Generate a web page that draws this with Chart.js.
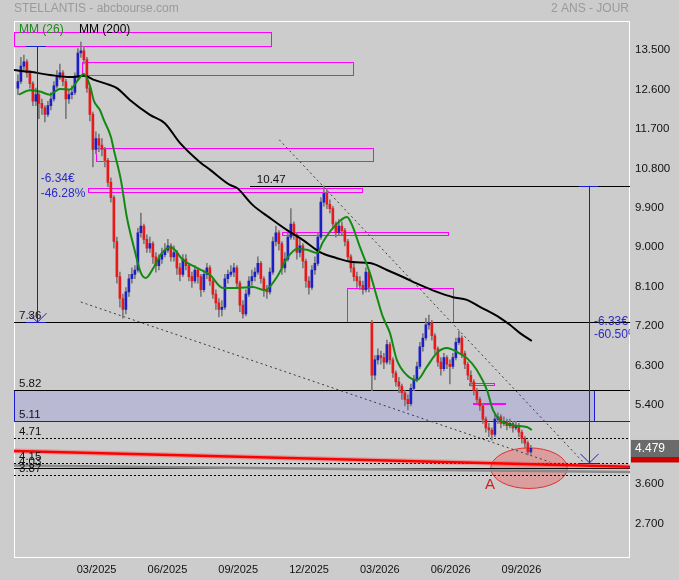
<!DOCTYPE html>
<html><head><meta charset="utf-8">
<script src="https://cdn.jsdelivr.net/npm/chart.js"></script>
<style>
html,body{margin:0;padding:0;background:#cccccc;overflow:hidden}
#wrap{position:relative;width:679px;height:580px}
</style></head><body>
<div id="wrap"><canvas id="c" width="679" height="580"></canvas></div>
<script>
// ---- data (months counted from 01/2025 = 0) ----
const startMonth = -1.335;
const stepMonth = 0.1271;
const opens = [
12.70,12.85,13.20,13.30,13.05,12.80,12.40,12.55,12.35,12.25,
12.10,12.30,12.45,12.75,12.95,13.05,12.85,12.45,12.55,12.60,
12.95,13.50,13.55,13.35,12.70,12.10,11.30,11.55,11.40,11.30,
11.05,10.55,10.20,9.20,8.40,7.90,7.65,8.05,8.35,8.45,
8.55,9.40,9.55,9.25,9.05,9.15,8.85,8.65,8.80,8.90,
9.00,9.10,8.85,8.95,8.60,8.45,8.80,8.65,8.40,8.30,
8.55,8.40,8.10,8.45,8.60,8.30,8.00,7.80,7.65,7.70,
8.35,8.45,8.50,8.60,8.25,7.75,7.55,8.00,8.30,8.40,
8.50,8.70,8.35,8.10,8.05,8.50,9.20,9.40,9.15,8.60,
8.80,9.30,9.60,9.35,8.95,9.10,8.75,8.30,8.15,8.55,
8.70,9.30,10.10,10.30,10.05,9.95,9.60,9.40,9.55,9.45,
9.20,8.85,8.60,8.40,8.30,8.20,8.10,8.50,7.35,6.15,
6.50,6.60,6.55,6.45,6.85,6.50,6.20,6.00,5.90,5.75,
5.60,5.50,5.85,6.05,6.35,6.80,7.00,7.30,7.35,7.05,
6.75,6.45,6.30,6.55,6.40,6.35,6.55,6.90,7.00,6.65,
6.40,6.15,6.00,5.80,5.60,5.45,5.15,4.95,4.90,4.80,
5.15,5.20,5.05,5.10,5.00,5.05,4.95,5.00,4.85,4.70,
4.60,4.40];
const highs = [
13.00,13.40,13.45,13.35,13.10,12.85,12.70,12.60,12.45,12.30,
12.40,12.60,12.85,13.10,13.25,13.10,12.90,12.65,12.75,13.05,
13.60,13.75,13.65,13.40,12.75,12.15,11.70,11.65,11.55,11.35,
11.10,10.65,10.25,9.30,8.50,8.00,8.15,8.45,8.60,8.65,
9.50,9.85,9.60,9.35,9.30,9.20,8.95,8.90,9.05,9.15,
9.25,9.15,9.10,9.00,8.70,8.90,8.90,8.70,8.50,8.65,
8.60,8.45,8.55,8.70,8.65,8.35,8.10,7.90,7.85,8.45,
8.55,8.65,8.70,8.65,8.30,7.85,8.10,8.40,8.55,8.60,
8.85,8.75,8.40,8.20,8.60,9.30,9.55,9.45,9.20,8.95,
9.40,9.95,9.65,9.40,9.25,9.15,8.80,8.40,8.65,8.85,
9.40,10.20,10.47,10.40,10.15,10.00,9.65,9.70,9.65,9.50,
9.25,8.90,8.70,8.50,8.40,8.30,8.60,8.55,7.40,6.60,
6.75,6.70,6.65,6.95,6.90,6.55,6.25,6.10,5.95,5.80,
5.70,5.95,6.15,6.45,6.90,7.10,7.45,7.52,7.40,7.10,
6.80,6.55,6.65,6.60,6.50,6.65,7.00,7.15,7.05,6.70,
6.45,6.25,6.05,5.85,5.65,5.50,5.20,5.05,4.95,5.25,
5.29,5.25,5.20,5.15,5.15,5.10,5.10,5.05,4.90,4.75,
4.65,4.55];
const lows = [
12.55,12.80,13.10,12.95,12.70,12.30,12.30,12.00,12.10,11.93,
12.05,12.20,12.40,12.70,12.90,12.75,12.00,12.35,12.45,12.55,
12.90,13.40,13.25,12.60,11.95,10.90,11.20,11.25,11.15,10.90,
10.45,10.10,9.05,8.25,7.70,7.45,7.55,7.95,8.25,8.35,
8.50,9.30,9.15,8.95,8.95,8.70,8.50,8.55,8.70,8.85,
8.95,8.75,8.75,8.45,8.30,8.40,8.55,8.30,8.15,8.25,
8.25,7.95,8.05,8.35,8.20,7.90,7.65,7.48,7.50,7.65,
8.25,8.40,8.40,8.15,7.60,7.45,7.50,7.95,8.20,8.30,
8.45,8.25,7.95,7.90,8.00,8.45,9.10,9.00,8.45,8.50,
8.75,9.25,9.25,8.80,8.85,8.60,8.15,8.00,8.10,8.45,
8.65,9.25,10.00,9.95,9.85,9.50,9.30,9.35,9.35,9.10,
8.75,8.50,8.30,8.15,8.10,8.00,8.05,8.05,5.80,6.05,
6.40,6.40,6.30,6.40,6.40,6.10,5.90,5.75,5.60,5.45,
5.36,5.45,5.80,6.00,6.30,6.70,6.95,7.20,6.95,6.65,
6.35,6.15,6.25,6.30,5.95,6.30,6.50,6.85,6.55,6.30,
6.05,5.90,5.70,5.50,5.35,5.05,4.85,4.75,4.67,4.75,
5.05,4.95,5.00,4.90,4.95,4.85,4.90,4.75,4.60,4.50,
4.33,4.35];
const closes = [
12.85,13.20,13.30,13.05,12.80,12.40,12.55,12.35,12.25,12.10,
12.30,12.45,12.75,12.95,13.05,12.85,12.45,12.55,12.60,12.95,
13.50,13.55,13.35,12.70,12.10,11.30,11.55,11.40,11.30,11.05,
10.55,10.20,9.20,8.40,7.90,7.65,8.05,8.35,8.45,8.55,
9.40,9.55,9.25,9.05,9.15,8.85,8.65,8.80,8.90,9.00,
9.10,8.85,8.95,8.60,8.45,8.80,8.65,8.40,8.30,8.55,
8.40,8.10,8.45,8.60,8.30,8.00,7.80,7.65,7.70,8.35,
8.45,8.50,8.60,8.25,7.75,7.55,8.00,8.30,8.40,8.50,
8.70,8.35,8.10,8.05,8.50,9.20,9.40,9.15,8.60,8.80,
9.30,9.60,9.35,8.95,9.10,8.75,8.30,8.15,8.55,8.70,
9.30,10.10,10.30,10.05,9.95,9.60,9.40,9.55,9.45,9.20,
8.85,8.60,8.40,8.30,8.20,8.10,8.50,8.15,6.15,6.50,
6.60,6.55,6.45,6.85,6.50,6.20,6.00,5.90,5.75,5.60,
5.50,5.85,6.05,6.35,6.80,7.00,7.30,7.35,7.05,6.75,
6.45,6.30,6.55,6.40,6.35,6.55,6.90,7.00,6.65,6.40,
6.15,6.00,5.80,5.60,5.45,5.15,4.95,4.90,4.80,5.15,
5.20,5.05,5.10,5.00,5.05,4.95,5.00,4.85,4.70,4.60,
4.40,4.48];

const ma26Months = [-1.29,-0.83,-0.40,0.02,0.44,0.87,1.21,1.46,1.72,1.89,2.14,2.31,2.61,2.73,3.03,3.28,3.58,3.88,4.09,4.43,4.77,5.15,5.66,6.25,6.80,7.35,7.95,8.62,9.13,9.64,10.07,10.49,10.91,11.34,11.59,12.02,12.61,12.82,13.16,13.58,13.92,14.13,14.43,14.72,15.15,15.57,15.99,16.42,16.84,17.27,17.69,18.11,18.54,18.79,19.09,19.64,20.23,20.44];
const ma26Values = [12.55,12.65,12.62,12.55,12.68,12.67,12.88,13.02,12.75,12.40,12.20,11.97,11.58,11.29,10.60,9.76,9.07,8.48,8.37,8.62,8.94,9.07,8.78,8.60,8.44,8.14,8.14,8.16,8.09,8.39,8.82,9.03,9.01,8.94,9.19,9.51,9.76,9.58,9.07,8.48,7.85,7.48,7.11,6.50,6.15,6.04,6.34,6.66,6.77,6.68,6.54,6.27,5.81,5.36,5.13,5.01,4.97,4.90];
const ma200Months = [-1.50,-0.83,0.02,0.87,1.46,1.93,2.56,2.86,3.41,4.26,4.89,5.53,6.38,6.80,7.65,7.95,8.62,9.34,10.07,10.75,11.46,12.18,12.86,13.58,14.30,14.98,15.70,16.42,17.10,17.69,18.24,19.09,19.51,19.94,20.44];
const ma200Values = [13.11,13.07,13.00,12.95,12.98,12.88,12.77,12.70,12.43,12.09,11.90,11.45,11.01,10.84,10.49,10.42,10.03,9.74,9.46,9.23,8.96,8.82,8.73,8.71,8.55,8.39,8.21,8.05,7.93,7.87,7.71,7.46,7.30,7.11,6.93];

const xTickMonths = [2,5,8,11,14,17,20];
const xTickLabels = ['03/2025','06/2025','09/2025','12/2025','03/2026','06/2026','09/2026'];
const yTickValues = [2.7,3.6,4.5,5.4,6.3,7.2,8.1,9.0,9.9,10.8,11.7,12.6,13.5];
const lastPrice = 4.479;

// ---- annotations (in data units: month, price) ----
const boxes = [
  [-1.50, 9.39, 13.66, 13.98],
  [1.38, 12.86, 13.00, 13.29],
  [1.97, 13.71, 11.03, 11.34],
  [1.63, 13.24, 10.34, 10.42],
  [9.84, 16.88, 9.34, 9.42],
  [12.60, 17.10, 7.36, 8.13],
  [17.78, 18.84, 5.92, 5.97]
];
const magentaBar = [17.95, 19.35, 5.50];
const levels = [
  {value:10.47, from:8.50, kind:'solid', label:'10.47', labelAt:8.79},
  {value:7.36, kind:'solid', label:'7.36'},
  {value:5.82, kind:'solid', label:'5.82'},
  {value:5.11, kind:'blue', label:'5.11'},
  {value:4.71, kind:'dot', label:'4.71'},
  {value:4.15, kind:'dot', label:'4.15'},
  {value:4.03, kind:'solid', label:'4.03'},
  {value:3.87, kind:'dot', label:'3.87'}
];
const zone = {top:5.82, bottom:5.11, end:23.08};
const redLine = [[-1.5,4.42],[24.6,4.06]];
const greyLine = [[-1.5,4.09],[24.6,3.94]];
const trendLines = [[[9.74,11.52],[22.61,4.17]], [[1.33,7.82],[21.21,4.17]]];
const ellipse = {m:20.32, v:4.03, dm:1.62, dv:0.463};
const measures = [
  {m:-0.53, from:13.66, to:7.36, tickFrom:-1.0, tickTo:-0.15, text:['-6.34€','-46.28%'], textM:-0.37, textV:[10.64,10.30]},
  {m:22.87, from:10.47, to:4.15, tickFrom:22.44, tickTo:23.25, text:['-6.33€','-60.50%'], textM:23.07, textV:[7.37,7.07]}
];
const markA = {m:18.67, v:3.64, text:'A'};

// ---- styles ----
const FONT = '"Liberation Sans", Arial, sans-serif';
const C_RED = '#e61a1a', C_BLUE = '#1c1fc4', C_WICK = '#7a7a7a';

const months = closes.map((_, i) => startMonth + i * stepMonth);
const wickData = months.map((m, i) => ({x: m, y: [lows[i], highs[i]]}));
const bodyData = months.map((m, i) => ({x: m, y: [opens[i], closes[i]]}));
const bodyColors = closes.map((c, i) => c >= opens[i] ? C_BLUE : C_RED);
const ma26 = ma26Months.map((m, i) => ({x: m, y: ma26Values[i]}));
const ma200 = ma200Months.map((m, i) => ({x: m, y: ma200Values[i]}));

function line(ctx, x1, y1, x2, y2){ ctx.beginPath(); ctx.moveTo(x1,y1); ctx.lineTo(x2,y2); ctx.stroke(); }
const r5 = v => Math.round(v) + 0.5;

const overlay = {
  id: 'overlay',
  beforeDatasetsDraw(chart){
    const {ctx, chartArea: a, scales: {x, y}} = chart;
    const X = v => x.getPixelForValue(v), Y = v => y.getPixelForValue(v);
    ctx.save();
    ctx.strokeStyle = '#ffffff'; ctx.lineWidth = 1;
    ctx.strokeRect(r5(a.left), r5(a.top), Math.round(a.width) - 1, Math.round(a.height));
    ctx.beginPath(); ctx.rect(a.left, a.top, a.width, a.height); ctx.clip();
    // zone
    const zt = r5(Y(zone.top)), zb = r5(Y(zone.bottom)), ze = r5(X(zone.end));
    ctx.fillStyle = '#b9b9d4';
    ctx.fillRect(a.left, zt, ze - a.left, zb - zt);
    ctx.strokeStyle = '#1a1ad0';
    line(ctx, r5(a.left), zt, r5(a.left), zb);
    line(ctx, ze, zt, ze, zb);
    // ellipse
    const ex = X(ellipse.m), ey = Y(ellipse.v);
    const rx = X(ellipse.m + ellipse.dm) - ex, ry = ey - Y(ellipse.v + ellipse.dv);
    ctx.beginPath(); ctx.ellipse(ex, ey, rx, ry, 0, 0, Math.PI * 2);
    ctx.fillStyle = 'rgba(232,120,120,0.55)'; ctx.fill();
    ctx.strokeStyle = '#e03030'; ctx.lineWidth = 1; ctx.stroke();
    // magenta boxes
    ctx.strokeStyle = '#ff00ff'; ctx.lineWidth = 1;
    boxes.forEach(b => {
      const x1 = r5(X(b[0])), x2 = r5(X(b[1])), y1 = r5(Y(b[3])), y2 = r5(Y(b[2]));
      ctx.strokeRect(x1, y1, x2 - x1, y2 - y1);
    });
    ctx.lineWidth = 2;
    line(ctx, X(magentaBar[0]), Math.round(Y(magentaBar[2])), X(magentaBar[1]), Math.round(Y(magentaBar[2])));
    // levels
    levels.forEach(l => {
      const yy = r5(Y(l.value));
      const x0 = l.from !== undefined ? X(l.from) : a.left;
      ctx.lineWidth = 1;
      if (l.kind === 'dot') { ctx.setLineDash([2,2]); ctx.strokeStyle = '#000'; }
      else if (l.kind === 'blue') { ctx.setLineDash([]); ctx.strokeStyle = '#1a1ad0'; }
      else { ctx.setLineDash([]); ctx.strokeStyle = '#000'; }
      line(ctx, x0, yy, a.right, yy);
    });
    ctx.setLineDash([]);
    // grey and red sloped lines
    ctx.strokeStyle = '#8a8a8a'; ctx.lineWidth = 2.5;
    line(ctx, X(greyLine[0][0]), Y(greyLine[0][1]), X(greyLine[1][0]), Y(greyLine[1][1]));
    ctx.strokeStyle = 'rgba(255,60,60,0.35)'; ctx.lineWidth = 5;
    line(ctx, X(redLine[0][0]), Y(redLine[0][1]), X(redLine[1][0]), Y(redLine[1][1]));
    ctx.strokeStyle = '#ff0000'; ctx.lineWidth = 2.5;
    line(ctx, X(redLine[0][0]), Y(redLine[0][1]), X(redLine[1][0]), Y(redLine[1][1]));
    // trend lines
    ctx.strokeStyle = '#3a3a3a'; ctx.lineWidth = 1; ctx.setLineDash([2,3]);
    trendLines.forEach(t => line(ctx, X(t[0][0]), Y(t[0][1]), X(t[1][0]), Y(t[1][1])));
    ctx.setLineDash([]);
    ctx.restore();
  },
  afterDatasetsDraw(chart){
    const {ctx, chartArea: a, scales: {x, y}} = chart;
    const X = v => x.getPixelForValue(v), Y = v => y.getPixelForValue(v);
    ctx.save();
    ctx.beginPath(); ctx.rect(a.left, a.top, a.width, a.height); ctx.clip();
    // level labels
    ctx.font = '11.5px ' + FONT; ctx.fillStyle = '#111'; ctx.textBaseline = 'alphabetic'; ctx.textAlign = 'left';
    levels.forEach(l => {
      const lx = l.labelAt !== undefined ? X(l.labelAt) : a.left + 5;
      ctx.fillText(l.label, lx, Y(l.value) - 3);
    });
    // measures
    measures.forEach(ms => {
      const mx = r5(X(ms.m)), y1 = Y(ms.from), y2 = Y(ms.to);
      ctx.strokeStyle = '#1a1ad0'; ctx.lineWidth = 1;
      line(ctx, mx, y1, mx, y2);
      line(ctx, X(ms.tickFrom), r5(y1), X(ms.tickTo), r5(y1));
      line(ctx, X(ms.tickFrom), r5(y2), X(ms.tickTo), r5(y2));
      ctx.beginPath(); ctx.moveTo(mx - 9, y2 - 9); ctx.lineTo(mx, y2); ctx.lineTo(mx + 9, y2 - 9); ctx.stroke();
      ctx.font = '12px ' + FONT; ctx.fillStyle = '#2a2ac8'; ctx.textBaseline = 'middle';
      ms.text.forEach((t, i) => ctx.fillText(t, X(ms.textM), Y(ms.textV[i])));
    });
    // A mark
    ctx.font = '15px ' + FONT; ctx.fillStyle = '#d42020'; ctx.textAlign = 'center'; ctx.textBaseline = 'middle';
    ctx.fillText(markA.text, X(markA.m), Y(markA.v));
    ctx.restore();

    // outside the plot
    ctx.save();
    const py = Y(lastPrice);
    ctx.fillStyle = '#cc0000';
    ctx.fillRect(a.right + 1, py - 4, chart.width - a.right, 18);
    ctx.fillStyle = '#6b6b6b';
    ctx.fillRect(a.right + 1, py - 8.5, chart.width - a.right, 17);
    ctx.font = '12px ' + FONT; ctx.fillStyle = '#ffffff'; ctx.textBaseline = 'middle'; ctx.textAlign = 'left';
    ctx.fillText(lastPrice.toFixed(3), a.right + 5, py + 0.5);
    // header
    ctx.font = '12px ' + FONT; ctx.fillStyle = '#9a9a9a';
    ctx.fillText('STELLANTIS - abcbourse.com', 14, 9);
    ctx.textAlign = 'right';
    ctx.fillText('2 ANS - JOUR', 629, 9);
    // legend
    ctx.textAlign = 'left'; ctx.font = '12px ' + FONT;
    ctx.fillStyle = '#1a8a1a'; ctx.fillText('MM (26)', 19, 29.5);
    ctx.fillStyle = '#000000'; ctx.fillText('MM (200)', 79, 29.5);
    ctx.restore();
  }
};

new Chart(document.getElementById('c'), {
  type: 'bar',
  data: {
    datasets: [
      {type:'line', data: ma26, borderColor:'#128a12', borderWidth:2, pointRadius:0, cubicInterpolationMode:'monotone', order:1},
      {type:'line', data: ma200, borderColor:'#000000', borderWidth:2, pointRadius:0, cubicInterpolationMode:'monotone', order:1},
      {type:'bar', data: bodyData, backgroundColor: bodyColors, barThickness: 2, grouped:false, minBarLength:1, order:2},
      {type:'bar', data: wickData, backgroundColor: C_WICK, barThickness: 1, grouped:false, order:3}
    ]
  },
  options: {
    responsive:false, animation:false, devicePixelRatio:1,
    layout:{padding:{left:14, top:21, right:0, bottom:0}},
    plugins:{legend:{display:false}, tooltip:{enabled:false}},
    scales:{
      x:{type:'linear', min:-1.5, max:24.6, offset:false,
         grid:{display:false, drawTicks:false}, border:{display:false},
         afterFit: s => { s.height = 23.5; },
         afterBuildTicks: s => { s.ticks = xTickMonths.map(v => ({value:v})); },
         ticks:{autoSkip:false, maxRotation:0, padding:7, color:'#111', font:{family:FONT, size:11},
                callback: v => xTickLabels[xTickMonths.indexOf(v)]}},
      y:{type:'linear', position:'right', min:2.015, max:14.23,
         grid:{display:false, drawTicks:false}, border:{display:false},
         afterFit: s => { s.width = 49; },
         afterBuildTicks: s => { s.ticks = yTickValues.map(v => ({value:v})); },
         ticks:{padding:5, labelOffset:-3, color:'#111', font:{family:FONT, size:11.5},
                callback: v => Number(v).toFixed(3)}}
    }
  },
  plugins:[overlay]
});
</script>
</body></html>
